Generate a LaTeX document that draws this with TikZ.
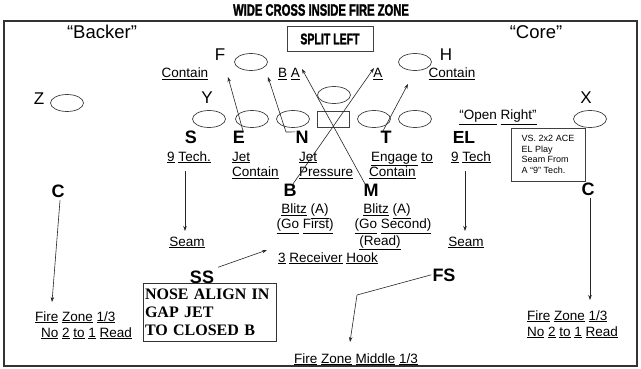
\documentclass[tikz,border=0pt]{standalone}
\usepackage{fontspec}
\setmainfont{Liberation Sans}
\newfontfamily\serifbold{Liberation Serif}
\newfontfamily\condfont{Liberation Sans}[UprightFont=* Bold, BoldFont=* Bold, FakeStretch=0.68, FakeBold=1.6]
\usetikzlibrary{arrows.meta,shapes.geometric}
\newcommand\myu[1]{\underline{#1}}
\tikzset{
  txt/.style={font=\fontsize{13.5}{16}\selectfont, inner sep=0pt, anchor=base},
  txtw/.style={txt, anchor=base west},
  big/.style={font=\fontsize{18}{20}\selectfont\bfseries, inner sep=0pt, anchor=base},
  poslbl/.style={font=\fontsize{17}{19}\selectfont, inner sep=0pt, anchor=base},
  player/.style={draw=black!75, line width=0.7pt, ellipse, minimum width=33pt, minimum height=17pt, inner sep=0pt},
  centerbox/.style={draw=black!75, line width=0.7pt, rectangle, minimum width=32pt, minimum height=16pt, inner sep=0pt},
  arr/.style={draw=black!85, line width=0.6pt, -{Stealth[length=5pt,width=3.5pt]}},
}
\begin{document}
\begin{tikzpicture}[x=1pt,y=-1pt]
\useasboundingbox (0,0) rectangle (641,369);
\fill[white] (0,0) rectangle (641,369);
% title
\node[font=\condfont\fontsize{16.5}{18}\selectfont, inner sep=0pt] (title) at (321,10) {WIDE CROSS INSIDE FIRE ZONE};
% frame
\draw[black!80, line width=1.3pt] (4,21) rectangle (637,366);
% headers
\node[font=\fontsize{18.5}{20}\selectfont, inner sep=0pt, anchor=base] (backer) at (102,39) {“Backer”};
\node[font=\fontsize{18.5}{20}\selectfont, inner sep=0pt, anchor=base] (core) at (536,39) {“Core”};
\node[draw=black!75, line width=0.8pt, minimum width=86pt, minimum height=25pt, inner sep=0pt,
      font=\condfont\fontsize{15.5}{17}\selectfont] (split) at (330,39) {SPLIT LEFT};
% offensive players
\node[player] (fO) at (251,62) {};
\node[player] (hO) at (415,62) {};
\node[player] (zO) at (67,103) {};
\node[player] (xO) at (590,119) {};
\node[player] (cO) at (334,95) {};
\node[player] (l1) at (209,119) {};
\node[player] (l2) at (252,119) {};
\node[player] (l3) at (293,119) {};
\node[centerbox] (ball) at (333,119) {};
\node[player] (l4) at (374,119) {};
\node[player] (l5) at (415,119) {};
\node[poslbl] (F) at (220,61) {F};
\node[poslbl] (H) at (446,61) {H};
\node[poslbl] (Z) at (39,105) {Z};
\node[poslbl] (Y) at (207,103) {Y};
\node[poslbl] (X) at (586,103) {X};
% top labels
\node[txt] (contL) at (185,78) {\myu{Contain}};
\node[txt] (ba) at (289,78) {\myu{B} \myu{A}};
\node[txt] (aR) at (378,78) {\myu{A}};
\node[txt] (contR) at (452,78) {\myu{Contain}};
\node[txt] (open) at (498,120) {\myu{“Open} \myu{Right”}};
% VS box
\node[draw=black!75, line width=0.7pt, minimum width=74pt, minimum height=53pt, inner sep=0pt,
      align=left, font=\fontsize{9}{10.8}\selectfont] (vs) at (548,154.5)
      {VS. 2x2 ACE\\EL Play\\Seam From\\A “9” Tech.};
% defenders
\node[big] (S) at (191,143.5) {S};
\node[big] (E) at (239,143.5) {E};
\node[big] (N) at (302,143.5) {N};
\node[big] (T) at (386,143.5) {T};
\node[big, font=\fontsize{17.5}{19}\selectfont\bfseries] (EL) at (464,143.5) {EL};
\node[txt] (nineL) at (189,161) {\myu{9} \myu{Tech.}};
\node[txtw] (jetE) at (232,161) {\myu{Jet}};
\node[txtw] (contE) at (232,177) {\myu{Contain}};
\node[txtw] (jetN) at (299,161) {\myu{Jet}};
\node[txtw] (pressN) at (299,177) {\myu{Pressure}};
\node[txtw] (engT) at (371,161) {\myu{Engage} \myu{to}};
\node[txtw] (contT) at (369,177) {\myu{Contain}};
\node[txt] (nineR) at (471,161) {\myu{9} \myu{Tech}};
\node[big] (CL) at (58,197) {C};
\node[big] (CR) at (588,195) {C};
\node[big] (B) at (290,196.5) {B};
\node[big] (M) at (371,196.5) {M};
\node[txt] (blitzB) at (305,214) {\myu{Blitz} \myu{(A)}};
\node[txt] (goB) at (305,229) {\myu{(Go} \myu{First)}};
\node[txt] (blitzM) at (387,214) {\myu{Blitz} \myu{(A)}};
\node[txt] (goM) at (393,229) {\myu{(Go} \myu{Second)}};
\node[txt] (readM) at (380,245) {\myu{(Read)}};
\node[txt] (seamL) at (187,246) {\myu{Seam}};
\node[txt] (seamR) at (466,246) {\myu{Seam}};
\node[txt] (hook) at (328,262) {\myu{3} \myu{Receiver} \myu{Hook}};
\node[big] (SS) at (202,283) {SS};
\node[big] (FS) at (444,281) {FS};
\node[draw=black!80, line width=0.8pt, inner xsep=2pt, inner ysep=0pt, text width=129pt, minimum height=58pt,
      align=left, font=\serifbold\bfseries\fontsize{16}{18}\selectfont] (nose) at (209.5,312)
      {NOSE ALIGN IN\\GAP JET\\TO CLOSED B};
\node[txtw] (fzL) at (35,321) {\myu{Fire} \myu{Zone} \myu{1/3}};
\node[txtw] (noL) at (41,337) {\myu{No} \myu{2} \myu{to} \myu{1} \myu{Read}};
\node[txtw] (fzR) at (527,320) {\myu{Fire} \myu{Zone} \myu{1/3}};
\node[txtw] (noR) at (527,336) {\myu{No} \myu{2} \myu{to} \myu{1} \myu{Read}};
\node[txt] (fzM) at (356,363) {\myu{Fire} \myu{Zone} \myu{Middle} \myu{1/3}};
% free ends
\coordinate (eTip) at (228,77);
\coordinate (nBend) at (286,132);
\coordinate (nTip) at (268,77);
\coordinate (mTip) at (302,69);
\coordinate (bTip) at (374,68);
\coordinate (tTip) at (408,84);
\coordinate (sStart) at (185,171);
\coordinate (sTip) at (185,231);
\coordinate (elStart) at (465,171);
\coordinate (elTip) at (465,231);
\coordinate (clTip) at (52,302);
\coordinate (crTip) at (590,300);
\coordinate (ssTip) at (267,250);
\coordinate (fsBend) at (357,295);
\coordinate (fsTip) at (350,342);
% routes
\draw[arr] ([xshift=4pt]E.north) -- (eTip);
\draw[arr] ([yshift=-1pt]N.north west) -- (nBend) -- (nTip);
\draw[arr] ([xshift=-6pt]M.north) -- (mTip);
\draw[arr] ([xshift=3pt]B.north) -- (bTip);
\draw[arr] ([xshift=-3pt]T.north) -- (tTip);
\draw[arr] (sStart) -- (sTip);
\draw[arr] (elStart) -- (elTip);
\draw[arr] ([xshift=2pt,yshift=-3pt]CL.south) -- (clTip);
\draw[arr] ([xshift=2pt,yshift=-3pt]CR.south) -- (crTip);
\draw[arr] ([xshift=4pt,yshift=3pt]SS.north east) -- (ssTip);
\draw[arr] ([xshift=-1pt]FS.west) -- (fsBend) -- (fsTip);
\end{tikzpicture}
\end{document}
